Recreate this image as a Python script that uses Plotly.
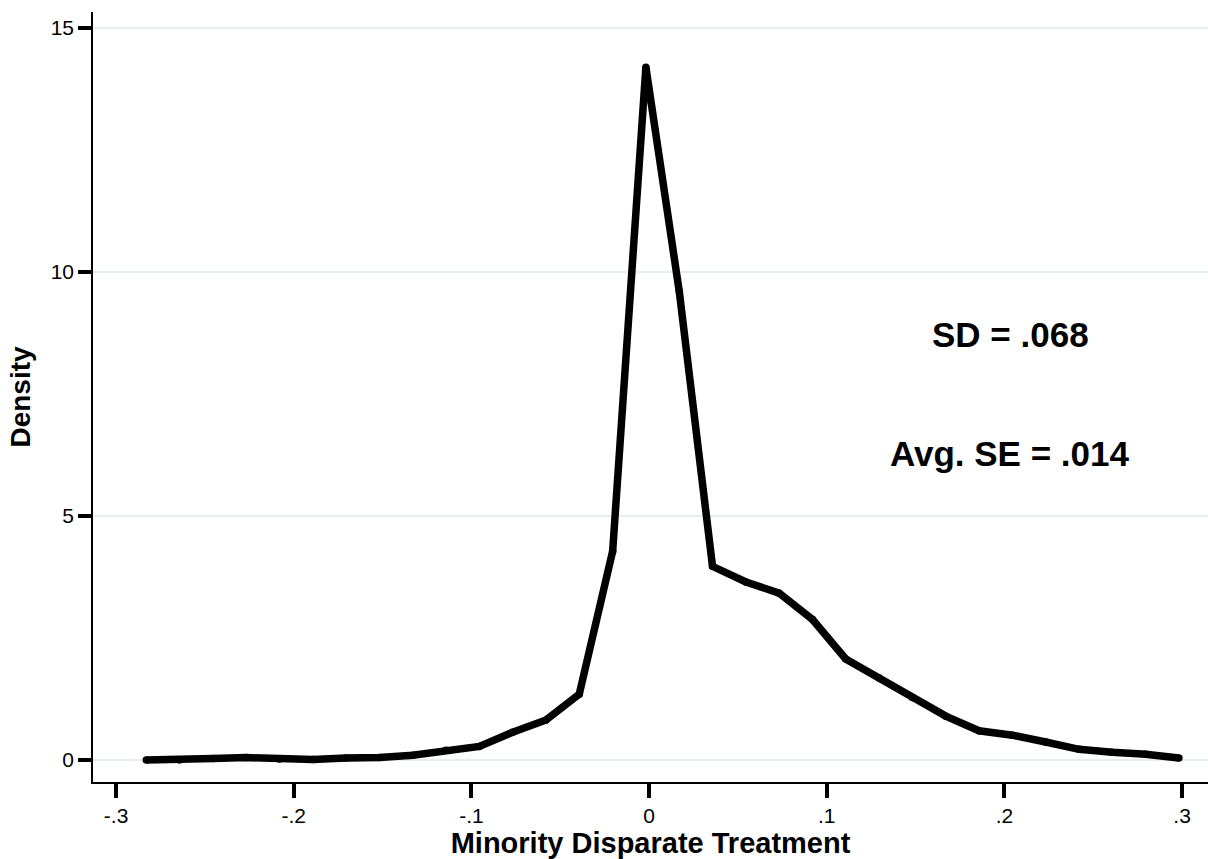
import plotly.graph_objects as go

# Kernel density evaluation points (Minority Disparate Treatment)
x_vals = [-0.283, -0.2643, -0.2455, -0.2268, -0.208, -0.1893, -0.1705, -0.1518,
          -0.133, -0.1143, -0.0955, -0.0768, -0.058, -0.0393, -0.0205, -0.0018,
          0.017, 0.0357, 0.0545, 0.0732, 0.092, 0.1107, 0.1295, 0.1482,
          0.167, 0.1857, 0.2045, 0.2232, 0.242, 0.2607, 0.2795, 0.2982]
density = [0.0, 0.0, 0.03, 0.05, 0.02, 0.01, 0.04, 0.05,
           0.1, 0.2, 0.28, 0.57, 0.82, 1.35, 4.28, 14.2,
           9.6, 3.97, 3.65, 3.42, 2.88, 2.07, 1.68, 1.28,
           0.9, 0.6, 0.51, 0.37, 0.22, 0.16, 0.12, 0.04]

x_ticks = [-0.3, -0.2, -0.1, 0, 0.1, 0.2, 0.3]
x_tick_labels = ["-.3", "-.2", "-.1", "0", ".1", ".2", ".3"]
y_ticks = [0, 5, 10, 15]
y_tick_labels = ["0", "5", "10", "15"]

annotation_texts = ["SD = .068", "Avg. SE = .014"]
annotation_x = [0.2032, 0.2032]
annotation_y = [8.72, 6.28]

FONT = "Liberation Sans, Arial, Helvetica, sans-serif"
GRID = "#e6eef0"

fig = go.Figure()
fig.add_trace(go.Scatter(
    x=x_vals, y=density, mode="lines+markers",
    line=dict(color="black", width=7.5),
    marker=dict(color="black", size=7.5, line=dict(width=0)),
    showlegend=False, hoverinfo="x+y",
))

for t, ax_, ay_ in zip(annotation_texts, annotation_x, annotation_y):
    fig.add_annotation(x=ax_, y=ay_, xref="x", yref="y", text=t, showarrow=False,
                       font=dict(family=FONT, size=35, color="black", weight=700),
                       xanchor="center", yanchor="middle")

fig.update_layout(
    width=1208, height=859,
    margin=dict(l=93, r=0, t=12, b=77),
    paper_bgcolor="white", plot_bgcolor="white",
    font=dict(family=FONT, color="black"),
)
fig.update_xaxes(
    range=[-0.313, 0.3146], tickvals=x_ticks, ticktext=x_tick_labels,
    showgrid=False, zeroline=False,
    showline=True, linecolor="black", linewidth=1.5,
    ticks="outside", ticklen=14, tickwidth=4, tickcolor="black",
    tickfont=dict(size=21, family=FONT, color="black"),
    title=dict(text="Minority Disparate Treatment", standoff=0,
               font=dict(size=29, family=FONT, color="black", weight=700)),
)
fig.update_yaxes(
    range=[-0.45, 15.33], tickvals=y_ticks, ticktext=y_tick_labels,
    showgrid=True, gridcolor=GRID, gridwidth=1.5, zeroline=False,
    showline=True, linecolor="black", linewidth=1.5,
    ticks="outside", ticklen=13, tickwidth=4, tickcolor="black",
    tickfont=dict(size=21, family=FONT, color="black"),
    title=dict(text="Density", standoff=12,
               font=dict(size=28, family=FONT, color="black", weight=700)),
)

fig.write_html("out.html")
